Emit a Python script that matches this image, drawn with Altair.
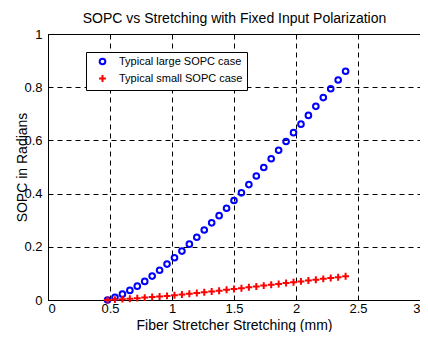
import altair as alt
import pandas as pd

series_names = ["Typical large SOPC case", "Typical small SOPC case"]

x_vals = [0.48, 0.54, 0.60, 0.66, 0.72, 0.78, 0.84, 0.90, 0.96, 1.02, 1.08,
          1.14, 1.20, 1.26, 1.32, 1.38, 1.44, 1.50, 1.56, 1.62, 1.68, 1.74,
          1.80, 1.86, 1.92, 1.98, 2.04, 2.10, 2.16, 2.22, 2.28, 2.34, 2.40]

large_sopc = [0.000, 0.010, 0.022, 0.036, 0.052, 0.070, 0.090, 0.112, 0.135,
              0.159, 0.184, 0.210, 0.236, 0.263, 0.290, 0.317, 0.345, 0.374,
              0.403, 0.434, 0.466, 0.498, 0.531, 0.563, 0.596, 0.629, 0.661,
              0.694, 0.728, 0.761, 0.794, 0.827, 0.860]

small_sopc = [0.000, 0.0015, 0.0032, 0.0050, 0.0070, 0.0090, 0.0110, 0.0132,
              0.0155, 0.0180, 0.0207, 0.0235, 0.0263, 0.0292, 0.0321, 0.0350,
              0.0382, 0.0414, 0.0445, 0.0477, 0.0509, 0.0541, 0.0572, 0.0604,
              0.0636, 0.0668, 0.0699, 0.0731, 0.0763, 0.0795, 0.0826, 0.0858,
              0.0890]

x_ticks = [0, 0.5, 1, 1.5, 2, 2.5, 3]
y_ticks = [0, 0.2, 0.4, 0.6, 0.8, 1]

chart_title = "SOPC vs Stretching with Fixed Input Polarization"

df = pd.DataFrame({
    "x": x_vals + x_vals,
    "y": large_sopc + small_sopc,
    "series": [series_names[0]] * len(x_vals) + [series_names[1]] * len(x_vals),
})

FONT = "Liberation Sans"
PLUS = "M-1,0H1M0,-1V1"

W, H = 372, 266

legend = alt.Legend(
    title=None, orient="none", legendX=38, legendY=18,
    fillColor="white", strokeColor="black", padding=4, cornerRadius=0,
    symbolOffset=7, labelOffset=11, labelFontSize=11, labelFont=FONT,
    labelColor="black", rowPadding=2, symbolStrokeWidth=2, symbolSize=34,
)

xscale = alt.Scale(domain=[0, 3], nice=False, zero=False)

points = alt.Chart(df).mark_point(filled=False, strokeWidth=2, opacity=1).encode(
    x=alt.X("x:Q", scale=xscale,
            axis=alt.Axis(values=x_ticks, format="~g", orient="bottom",
                          title="Fiber Stretcher Stretching (mm)",
                          titleX=W / 2, titleY=29, titleBaseline="alphabetic",
                          labelPadding=2)),
    y=alt.Y("y:Q",
            scale=alt.Scale(domain=[0, 1], nice=False, zero=False),
            axis=alt.Axis(values=y_ticks, format="~g",
                          title="SOPC in Radians",
                          titleX=-22, titleY=H / 2, titleAngle=270,
                          titleBaseline="alphabetic", titleAlign="center",
                          labelPadding=6)),
    color=alt.Color("series:N",
                    scale=alt.Scale(domain=series_names, range=["#0000ff", "#ff0000"]),
                    legend=legend),
    shape=alt.Shape("series:N",
                    scale=alt.Scale(domain=series_names, range=["circle", PLUS]),
                    legend=legend),
    size=alt.Size("series:N",
                  scale=alt.Scale(domain=series_names, range=[32, 48]),
                  legend=None),
)

title_axis = alt.Chart(df).mark_point(opacity=0).encode(
    x=alt.X("x:Q", scale=xscale,
            axis=alt.Axis(orient="top", labels=False, domain=False, grid=False,
                          ticks=False, title=chart_title,
                          titleX=W / 2, titleY=-12, titleBaseline="alphabetic",
                          titleAlign="center")),
)

chart = alt.layer(points, title_axis).resolve_axis(
    x="independent"
).properties(
    width=W, height=H,
    autosize=alt.AutoSizeParams(type="none"),
    padding={"left": 40, "top": 26, "right": 0, "bottom": 32},
).configure_view(
    stroke="black", strokeWidth=1
).configure_axis(
    labelFont=FONT, labelFontSize=13, labelColor="black",
    titleFont=FONT, titleFontSize=14, titleFontWeight="normal", titleColor="black",
    ticks=False, domainColor="black", domainWidth=1,
    gridColor="black", gridDash=[5, 4], gridOpacity=1, gridWidth=1,
)

chart.save("out.html", embed_options={"renderer": "svg", "actions": False})
